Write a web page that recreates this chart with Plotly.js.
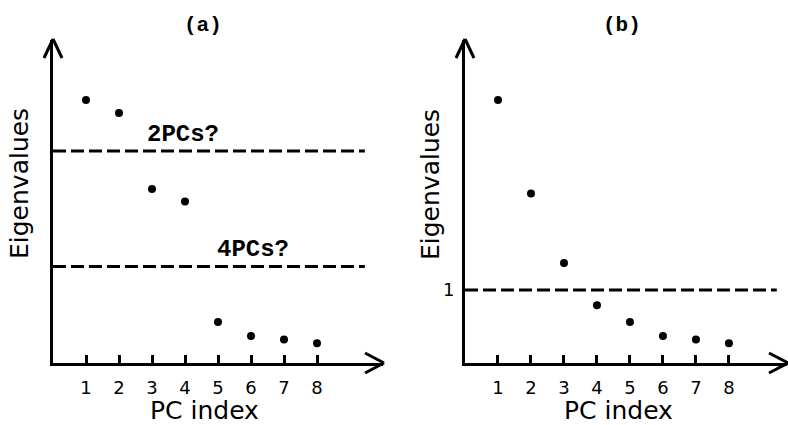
<!DOCTYPE html>
<html>
<head>
<meta charset="utf-8">
<script src="https://cdn.plot.ly/plotly-3.0.1.min.js"></script>
<style>html,body{margin:0;padding:0;background:#fff;}#chart{width:788px;height:425px;}</style>
</head>
<body>
<div id="chart"></div>
<script>
// ---- data ----
const pcIndex = [1, 2, 3, 4, 5, 6, 7, 8];
const tickLabels = ['1', '2', '3', '4', '5', '6', '7', '8'];
const eigenA = [3.60, 3.42, 2.38, 2.21, 0.56, 0.37, 0.32, 0.27];
const eigenB = [3.60, 2.32, 1.37, 0.79, 0.56, 0.37, 0.32, 0.27];
const cutoffsA = [2.90, 1.32];
const cutoffLabelsA = ['2PCs?', '4PCs?'];
const cutoffLabelPosA = [3.94, 6.06];
const cutoffB = [1];
const panelTitles = ['(a)', '(b)'];

// ---- layout helpers ----
const W = 788, H = 425;
const sans = 'DejaVu Sans, Verdana, sans-serif';
const mono = 'Liberation Mono, Courier New, monospace';
const black = '#000000';

const traces = [
  {x: pcIndex, y: eigenA, xaxis: 'x', yaxis: 'y', type: 'scatter', mode: 'markers',
   marker: {color: black, size: 8}, hoverinfo: 'x+y'},
  {x: pcIndex, y: eigenB, xaxis: 'x2', yaxis: 'y2', type: 'scatter', mode: 'markers',
   marker: {color: black, size: 8}, hoverinfo: 'x+y'}
];

function xAxis(domain, range, anchor) {
  return {domain: domain, range: range, anchor: anchor, showline: true, linewidth: 3, linecolor: black,
    ticks: 'inside', ticklen: 8, tickwidth: 3, tickcolor: black, tickvals: pcIndex, ticktext: tickLabels,
    showgrid: false, zeroline: false, fixedrange: true,
    tickfont: {family: sans, size: 18, color: black}, ticklabelstandoff: 6};
}
function yAxis(domain, range, anchor, extra) {
  return Object.assign({domain: domain, range: range, anchor: anchor, showline: true, linewidth: 3,
    linecolor: black, ticks: '', showgrid: false, zeroline: false, fixedrange: true,
    showticklabels: false, tickfont: {family: sans, size: 18, color: black}}, extra || {});
}

const yDomPx = [363, 40];
const yDom = [1 - yDomPx[0] / H, 1 - yDomPx[1] / H];
const yRange = [0, 4.42];
const xDomA = [53 / W, 383 / W];
const xDomB = [465 / W, 787 / W];

const shapes = [];
// threshold lines
cutoffsA.forEach(v => shapes.push({type: 'line', xref: 'x', yref: 'y', x0: 0, x1: 9.45, y0: v, y1: v,
  line: {color: black, width: 3, dash: '13px,5px'}}));
cutoffB.forEach(v => shapes.push({type: 'line', xref: 'x2', yref: 'y2', x0: 0, x1: 9.45, y0: v, y1: v,
  line: {color: black, width: 3, dash: '13px,5px'}}));
// axis arrowheads (open chevrons) at the ends of each axis, sized in pixels (paper-referenced so not clipped)
function chevron(ax, ay, pts) {
  pts.forEach(p => shapes.push({type: 'line', xref: 'paper', yref: 'paper', xsizemode: 'pixel', ysizemode: 'pixel',
    xanchor: ax, yanchor: ay, x0: p[0], y0: p[1], x1: 0, y1: 0, line: {color: black, width: 3}}));
}
[xDomA, xDomB].forEach(d => {
  chevron(d[1] + 1 / W, yDom[0], [[-19, 10], [-19, -10]]);
  chevron(d[0], yDom[1] + 1 / H, [[-9, -19], [9, -19]]);
});

const annotations = [];
cutoffsA.forEach((v, i) => annotations.push({xref: 'x', yref: 'y', x: cutoffLabelPosA[i], y: v,
  text: '<b>' + cutoffLabelsA[i] + '</b>', showarrow: false, yanchor: 'middle', yshift: 17,
  font: {family: mono, size: 24, color: black}}));
// panel titles
[[203, panelTitles[0]], [622, panelTitles[1]]].forEach(([px, t]) => annotations.push({
  xref: 'paper', yref: 'paper', x: px / W, y: 1 - 26 / H, text: '<b>' + t + '</b>', showarrow: false,
  xanchor: 'center', yanchor: 'middle', font: {family: mono, size: 21, color: black}}));
// axis titles
[[205, 'PC index'], [618, 'PC index']].forEach(([px, t]) => annotations.push({
  xref: 'paper', yref: 'paper', x: px / W, y: 0, yshift: -2, text: t, showarrow: false,
  xanchor: 'center', yanchor: 'bottom', font: {family: sans, size: 25, color: black}}));
[[20, 'Eigenvalues'], [431, 'Eigenvalues']].forEach(([px, t]) => annotations.push({
  xref: 'paper', yref: 'paper', x: px / W, y: 1 - 184 / H, text: t, showarrow: false, textangle: -90,
  xanchor: 'center', yanchor: 'middle', font: {family: sans, size: 25, color: black}}));

const layout = {
  width: W, height: H, margin: {l: 0, r: 0, t: 0, b: 0}, showlegend: false,
  paper_bgcolor: '#ffffff', plot_bgcolor: '#ffffff',
  xaxis: xAxis(xDomA, [0, 10], 'y'),
  yaxis: yAxis(yDom, yRange, 'x'),
  xaxis2: xAxis(xDomB, [0, 9.76], 'y2'),
  yaxis2: yAxis(yDom, yRange, 'x2', {showticklabels: true, tickvals: cutoffB, ticktext: ['1'], ticklabelstandoff: 4}),
  shapes: shapes, annotations: annotations
};

Plotly.newPlot('chart', traces, layout, {displayModeBar: false, staticPlot: true});
</script>
</body>
</html>
